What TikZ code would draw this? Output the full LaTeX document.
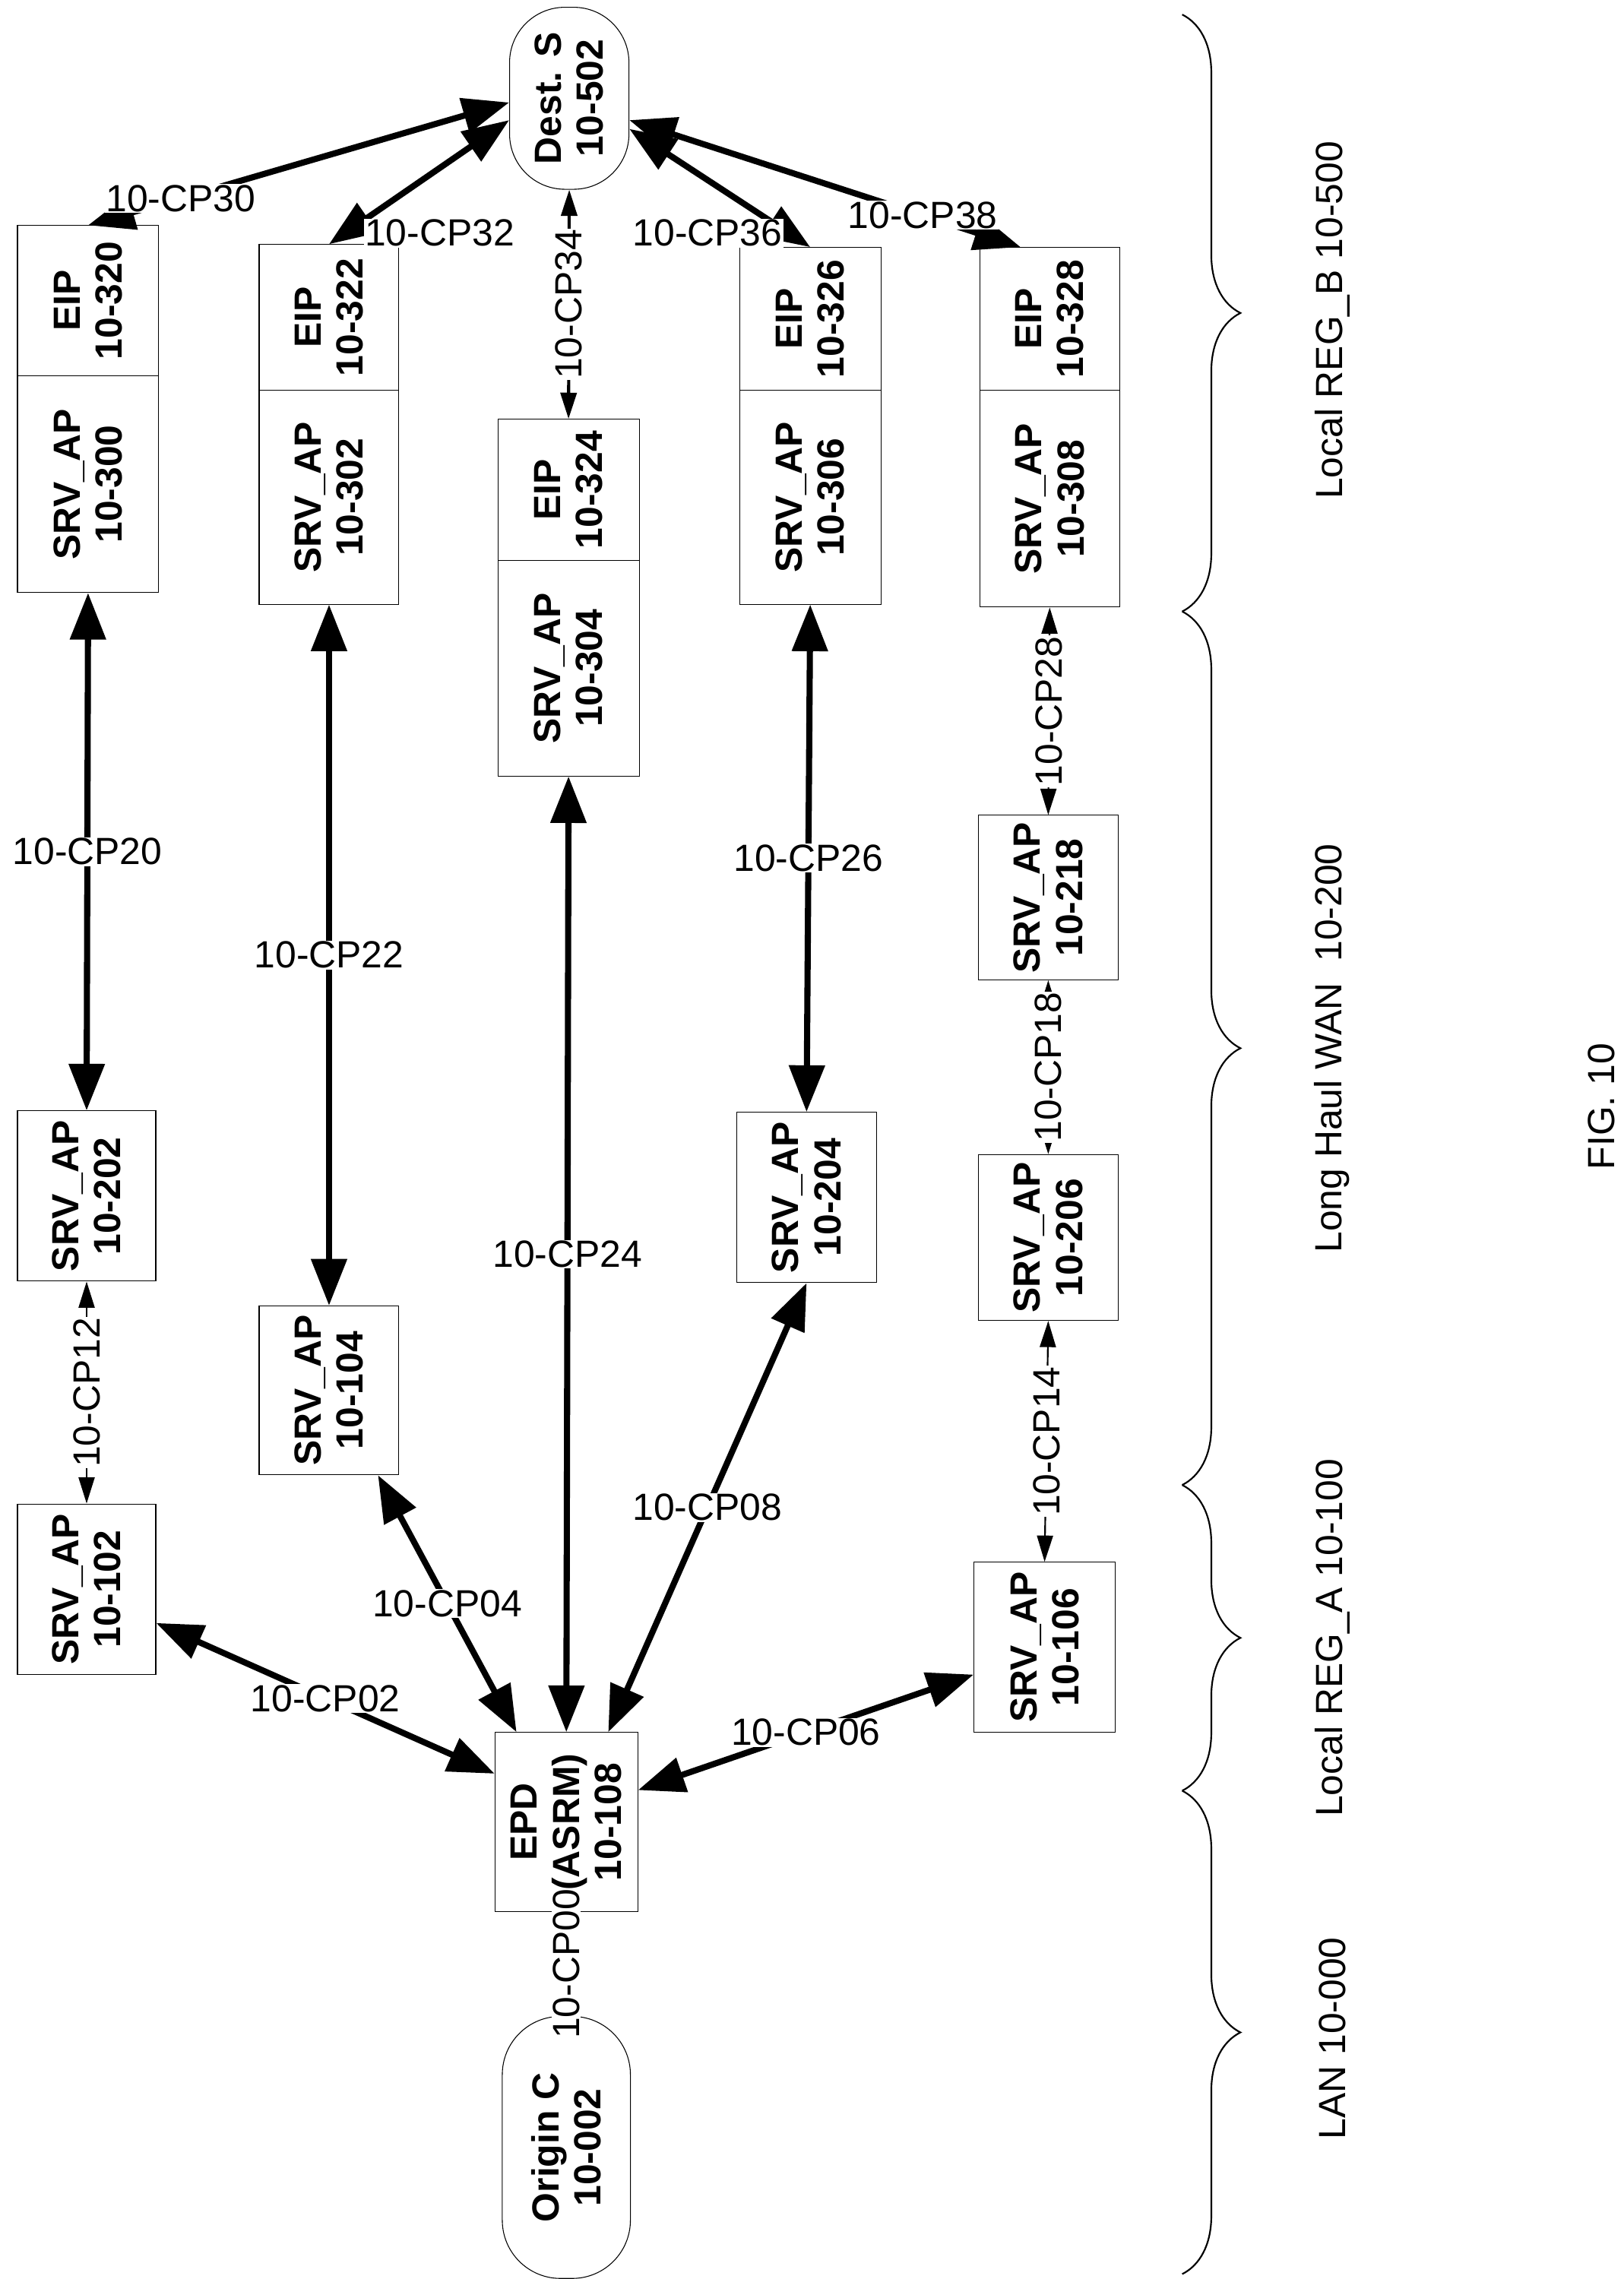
\documentclass[tikz,border=0pt]{standalone}
\usepackage{fontspec}
\setmainfont{Liberation Sans}
\usetikzlibrary{arrows.meta,decorations.pathreplacing,calc}
\begin{document}
\begin{tikzpicture}[x=0.05cm,y=-0.05cm,
  box/.style={draw,line width=0.8pt,inner sep=0pt},
  btxt/.style={rotate=90,align=center,font=\fontsize{37}{41}\selectfont\bfseries},
  thk/.style={line width=6pt,{Triangle[length=1.6cm,width=1.2cm]}-{Triangle[length=1.6cm,width=1.2cm]}},
  thn/.style={line width=1.6pt,{Triangle[length=0.9cm,width=0.55cm]}-{Triangle[length=0.9cm,width=0.55cm]}},
  lab/.style={fill=white,inner sep=1pt,font=\fontsize{37}{41}\selectfont},
  rlab/.style={lab,rotate=90},
  brc/.style={decorate,decoration={brace,amplitude=2cm},line width=1.6pt},
  glab/.style={rotate=90,font=\fontsize{37}{41}\selectfont}]
\useasboundingbox[fill=white] (0,0) rectangle (1115,1565.4);
\newcommand\bx[6]{\node[box,#6,minimum width={(#4-#2)*0.05cm},minimum height={(#5-#3)*0.05cm}] (#1) at ({(#2+#4)/2},{(#3+#5)/2}) {};}
\newcommand\bt[2]{\node[btxt] at (#1) {#2};}
% nodes
\bx{dest}{350}{5}{432}{130}{rounded corners=1.9cm}\bt{dest}{Dest. S\\10-502}
\bx{orig}{345}{1385}{433}{1565}{rounded corners=2cm}\bt{orig}{Origin C\\10-002}
\bx{e320}{12}{155}{109}{258}{}\bt{e320}{EIP\\10-320}
\bx{s300}{12}{258}{109}{407}{}\bt{s300}{SRV\_AP\\10-300}
\bx{e322}{178}{168}{274}{268}{}\bt{e322}{EIP\\10-322}
\bx{s302}{178}{268}{274}{415}{}\bt{s302}{SRV\_AP\\10-302}
\bx{e324}{342}{288}{439}{385}{}\bt{e324}{EIP\\10-324}
\bx{s304}{342}{385}{439}{533}{}\bt{s304}{SRV\_AP\\10-304}
\bx{e326}{508}{170}{605}{268}{}\bt{e326}{EIP\\10-326}
\bx{s306}{508}{268}{605}{415}{}\bt{s306}{SRV\_AP\\10-306}
\bx{e328}{673}{170}{769}{268}{}\bt{e328}{EIP\\10-328}
\bx{s308}{673}{268}{769}{417}{}\bt{s308}{SRV\_AP\\10-308}
\bx{s218}{672}{560}{768}{673}{}\bt{s218}{SRV\_AP\\10-218}
\bx{s202}{12}{763}{107}{880}{}\bt{s202}{SRV\_AP\\10-202}
\bx{s204}{506}{764}{602}{881}{}\bt{s204}{SRV\_AP\\10-204}
\bx{s206}{672}{793}{768}{907}{}\bt{s206}{SRV\_AP\\10-206}
\bx{s104}{178}{897}{274}{1013}{}\bt{s104}{SRV\_AP\\10-104}
\bx{s102}{12}{1033}{107}{1150}{}\bt{s102}{SRV\_AP\\10-102}
\bx{s106}{669}{1073}{766}{1190}{}\bt{s106}{SRV\_AP\\10-106}
\bx{epd}{340}{1190}{438}{1313}{}\bt{epd}{EPD\\(ASRM)\\10-108}
% top arrows
\draw[thk] (e320.north) -- (dest.184) node[lab,pos=0.22]{10-CP30};
\draw[thk] (e322.north) -- (dest.200);
\node[lab] at (302,160) {10-CP32};
\draw[thk] (e326.north) -- (dest.333);
\node[lab] at (486,160) {10-CP36};
\draw[thk] ($(e328.north)+(-1cm,0)$) -- (dest.340) node[lab,pos=0.25]{10-CP38};
\draw[thn,line width=3pt] (dest.south) -- (e324.north) node[rlab,midway]{10-CP34};
% verticals
\draw[thk] (s300.south) -- (s202.north) node[lab,midway]{10-CP20};
\draw[thk] (s302.south) -- (s104.north) node[lab,midway]{10-CP22};
\draw[thk] (s304.south) -- (epd.north) node[lab,pos=0.5]{10-CP24};
\draw[thk] (s306.south) -- (s204.north) node[lab,midway]{10-CP26};
\draw[thn] (s308.south) -- (s218.north) node[rlab,midway]{10-CP28};
\draw[thn] (s218.south) -- (s206.north) node[rlab,midway]{10-CP18};
\draw[thn] (s206.south) -- (s106.north) node[rlab,midway]{10-CP14};
\draw[thn] (s202.south) -- (s102.north) node[rlab,midway]{10-CP12};
\draw[thn] (epd.south) -- (orig.north) node[rlab,midway]{10-CP00};
% to EPD
\draw[thk] (s102.334) -- (epd.146) node[lab,midway]{10-CP02};
\draw[thk] (s104.300) -- (epd.119) node[lab,midway]{10-CP04};
\draw[thk] (s204.south) -- (epd.65) node[lab,midway]{10-CP08};
\draw[thk] (s106.201) -- (epd.24) node[lab,midway]{10-CP06};
% braces
\coordinate (b0) at (812,10);
\coordinate (b1) at (812,420);
\coordinate (b2) at (812,1020);
\coordinate (b3) at (812,1230);
\coordinate (b4) at (812,1562);
\draw[brc] (b0) -- (b1);
\draw[brc] (b1) -- (b2);
\draw[brc] (b2) -- (b3);
\draw[brc] (b3) -- (b4);
\node[glab] (g1) at (915,220) {Local REG\_B 10-500};
\node[glab] (g2) at (915,720) {Long Haul WAN\ \ 10-200};
\node[glab] (g3) at (915,1125) {Local REG\_A 10-100};
\node[glab] (g4) at (915,1400) {LAN 10-000};
\node[glab] (fig) at (1100,760) {FIG. 10};
\end{tikzpicture}
\end{document}
